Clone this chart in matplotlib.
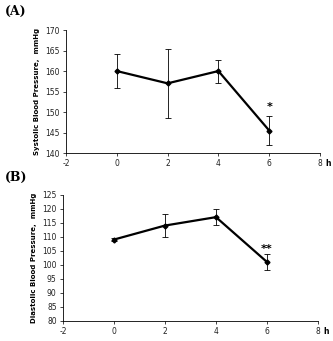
import matplotlib.pyplot as plt

plt.rcParams['axes.unicode_minus'] = False

# time points (h) and blood pressure means / errors
hours = [0, 2, 4, 6]
sbp = [160, 157, 160, 145.5]
sbp_err = [4.2, 8.4, 2.8, 3.6]
dbp = [109, 114, 117, 101]
dbp_err = [0.5, 4.2, 2.8, 2.8]

fig = plt.figure(figsize=(3.33, 3.41), dpi=100)
ax1 = fig.add_axes([0.198, 0.551, 0.763, 0.361])
ax2 = fig.add_axes([0.189, 0.059, 0.766, 0.370])

ax1.errorbar(hours, sbp, yerr=sbp_err, color='black', lw=1.6, marker='D',
             ms=2.5, ecolor='black', elinewidth=0.6, capsize=2, capthick=0.6)
ax1.text(6, 150.5, '*', fontsize=8, fontweight='bold', ha='center')
ax2.errorbar(hours, dbp, yerr=dbp_err, color='black', lw=1.6, marker='D',
             ms=2.5, ecolor='black', elinewidth=0.6, capsize=2, capthick=0.6)
ax2.text(6, 104.5, '**', fontsize=8, fontweight='bold', ha='center')

for ax, ylim, yticks, ylabel in [
        (ax1, (140, 170), range(140, 171, 5), 'Systolic Blood Pressure,  mmHg'),
        (ax2, (80, 125), range(80, 126, 5), 'Diastolic Blood Pressure,  mmHg')]:
    for s in ['top', 'right']:
        ax.spines[s].set_visible(False)
    ax.spines['left'].set_linewidth(0.6)
    ax.spines['bottom'].set_linewidth(0.6)
    ax.set_xlim(-2, 8)
    ax.set_xticks([-2, 0, 2, 4, 6, 8])
    ax.set_ylim(*ylim)
    ax.set_yticks(list(yticks))
    ax.tick_params(labelsize=5.5, width=0.6, length=2.5, pad=2, colors='#222222')
    ax.set_ylabel(ylabel, fontsize=5, fontweight='bold', labelpad=4)
    ax.text(8.22, ylim[0] - (ylim[1] - ylim[0]) * 0.085, 'h', fontsize=5.5,
            fontweight='bold', va='center', ha='left', clip_on=False)

fig.text(0.015, 0.955, '(A)', fontsize=9, fontweight='bold', family='DejaVu Serif')
fig.text(0.015, 0.47, '(B)', fontsize=9, fontweight='bold', family='DejaVu Serif')

fig.savefig('out.png', dpi=100)
